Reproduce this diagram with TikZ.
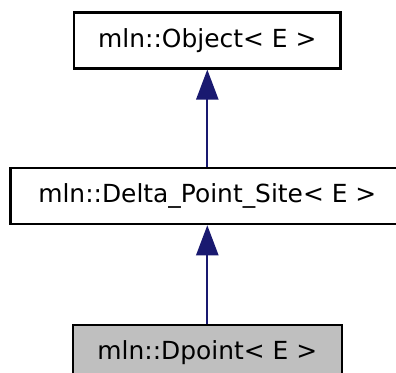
\documentclass[tikz,border=0pt]{standalone}
\usepackage{fontspec}
\setmainfont{DejaVu Sans}
\usetikzlibrary{arrows.meta,positioning}
\definecolor{edgeblue}{HTML}{191970}
\definecolor{leafgray}{HTML}{BFBFBF}
\begin{document}
\begin{tikzpicture}[
    x=1pt, y=1pt,
    every node/.style={rectangle, draw=black, line width=2.5pt, inner sep=0pt,
      minimum height=56pt, font=\fontsize{24.9}{30}\selectfont},
    inherit/.style={draw=edgeblue, line width=2.3pt,
      -{Triangle[length=30pt,width=22pt,fill=edgeblue]}}
  ]
  \useasboundingbox (0,0) rectangle (396,-372);
  \clip (0,0) rectangle (396,-372);
  \node[minimum width=266.5pt, fill=white] (obj) at (207.3,-40.3) {mln::Object< E >};
  \node[minimum width=394pt, fill=white, below=97.2pt of obj] (site) {mln::Delta\_Point\_Site< E >};
  \node[minimum width=269pt, fill=leafgray, below=98.5pt of site] (dpoint) {mln::Dpoint< E >};
  \draw[inherit] (site) -- (obj);
  \draw[inherit] (dpoint) -- (site);
\end{tikzpicture}
\end{document}
